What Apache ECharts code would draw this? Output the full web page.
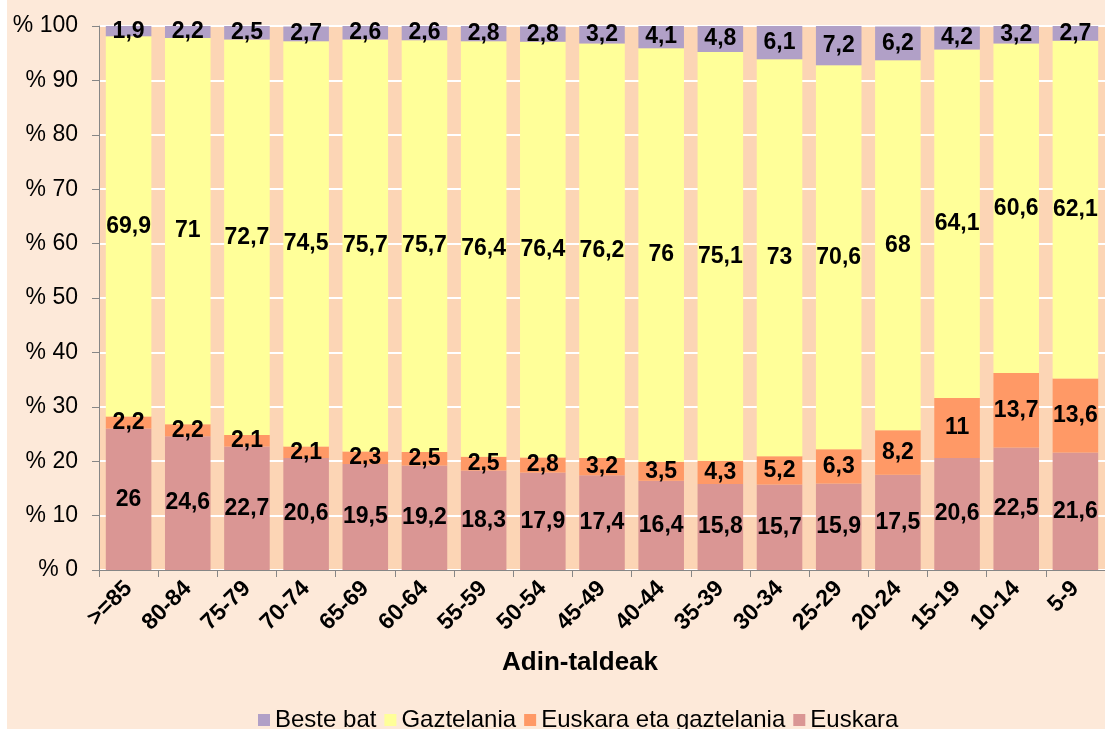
<!DOCTYPE html>
<html>
<head>
<meta charset="utf-8">
<script src="https://cdn.jsdelivr.net/npm/echarts@6/dist/echarts.min.js"></script>
<style>
  html, body { margin: 0; padding: 0; background: #ffffff; }
  #chart { position: absolute; left: 7px; top: 0; width: 1098px; height: 729px; }
</style>
</head>
<body>
<div id="chart"></div>
<script>
  // adin-taldeak
  const categories = ['>=85', '80-84', '75-79', '70-74', '65-69', '60-64', '55-59', '50-54', '45-49',
    '40-44', '35-39', '30-34', '25-29', '20-24', '15-19', '10-14', '5-9'];
  const euskara = [26, 24.6, 22.7, 20.6, 19.5, 19.2, 18.3, 17.9, 17.4, 16.4, 15.8, 15.7, 15.9, 17.5, 20.6, 22.5, 21.6];
  const euskaraEtaGaztelania = [2.2, 2.2, 2.1, 2.1, 2.3, 2.5, 2.5, 2.8, 3.2, 3.5, 4.3, 5.2, 6.3, 8.2, 11, 13.7, 13.6];
  const gaztelania = [69.9, 71, 72.7, 74.5, 75.7, 75.7, 76.4, 76.4, 76.2, 76, 75.1, 73, 70.6, 68, 64.1, 60.6, 62.1];
  const besteBat = [1.9, 2.2, 2.5, 2.7, 2.6, 2.6, 2.8, 2.8, 3.2, 4.1, 4.8, 6.1, 7.2, 6.2, 4.2, 3.2, 2.7];

  const font = '"Liberation Sans", Arial, sans-serif';

  let myChart = echarts.init(document.getElementById('chart'));

  // etiketak koma hamartarrarekin
  function serie(name, data, color) {
    return {
      name: name,
      type: 'bar',
      stack: 'guztira',
      data: data,
      barCategoryGap: '23%',
      itemStyle: { color: color },
      label: {
        show: true,
        position: 'inside',
        color: '#000',
        fontFamily: font,
        fontWeight: 'bold',
        fontSize: 23,
        formatter: p => String(p.value).replace('.', ',')
      }
    }
  }

  let option = {
    backgroundColor: '#FDE9D9',
    animation: false,
    textStyle: { fontFamily: font },
    grid: {
      left: 92,
      right: -12,
      top: 26,
      bottom: 159,
      show: true,
      backgroundColor: '#FCD5B5',
      borderWidth: 0
    },
    legend: {
      data: ['Beste bat', 'Gaztelania', 'Euskara eta gaztelania', 'Euskara'],
      left: 246,
      top: 703,
      itemWidth: 12,
      itemHeight: 12,
      itemGap: 8,
      icon: 'rect',
      textStyle: { fontFamily: font, fontSize: 24, color: '#000' }
    },
    graphic: [{
      type: 'text',
      left: 495,
      top: 650,
      style: {
        text: 'Adin-taldeak',
        font: 'bold 26px ' + font,
        fill: '#000'
      }
    }],
    xAxis: {
      type: 'category',
      data: categories,
      axisLine: { show: true, lineStyle: { color: '#868686', width: 1 } },
      axisTick: { show: true, length: 7, lineStyle: { color: '#868686' } },
      axisLabel: {
        rotate: 45,
        margin: 15,
        color: '#000',
        fontFamily: font,
        fontWeight: 'bold',
        fontSize: 23
      },
      splitLine: { show: false }
    },
    yAxis: {
      type: 'value',
      min: 0,
      max: 100,
      interval: 10,
      axisLine: { show: true, lineStyle: { color: '#868686', width: 1 } },
      axisTick: { show: true, length: 7, lineStyle: { color: '#868686' } },
      axisLabel: {
        margin: 21,
        color: '#000',
        fontFamily: font,
        fontSize: 23,
        formatter: v => '% ' + v
      },
      splitLine: { show: true, lineStyle: { color: '#ffffff', width: 2 } }
    },
    series: [
      serie('Euskara', euskara, '#DA9694'),
      serie('Euskara eta gaztelania', euskaraEtaGaztelania, '#FF9966'),
      serie('Gaztelania', gaztelania, '#FFFF99'),
      serie('Beste bat', besteBat, '#B1A0C7')
    ]
  };
  myChart.setOption(option);
</script>
</body>
</html>
